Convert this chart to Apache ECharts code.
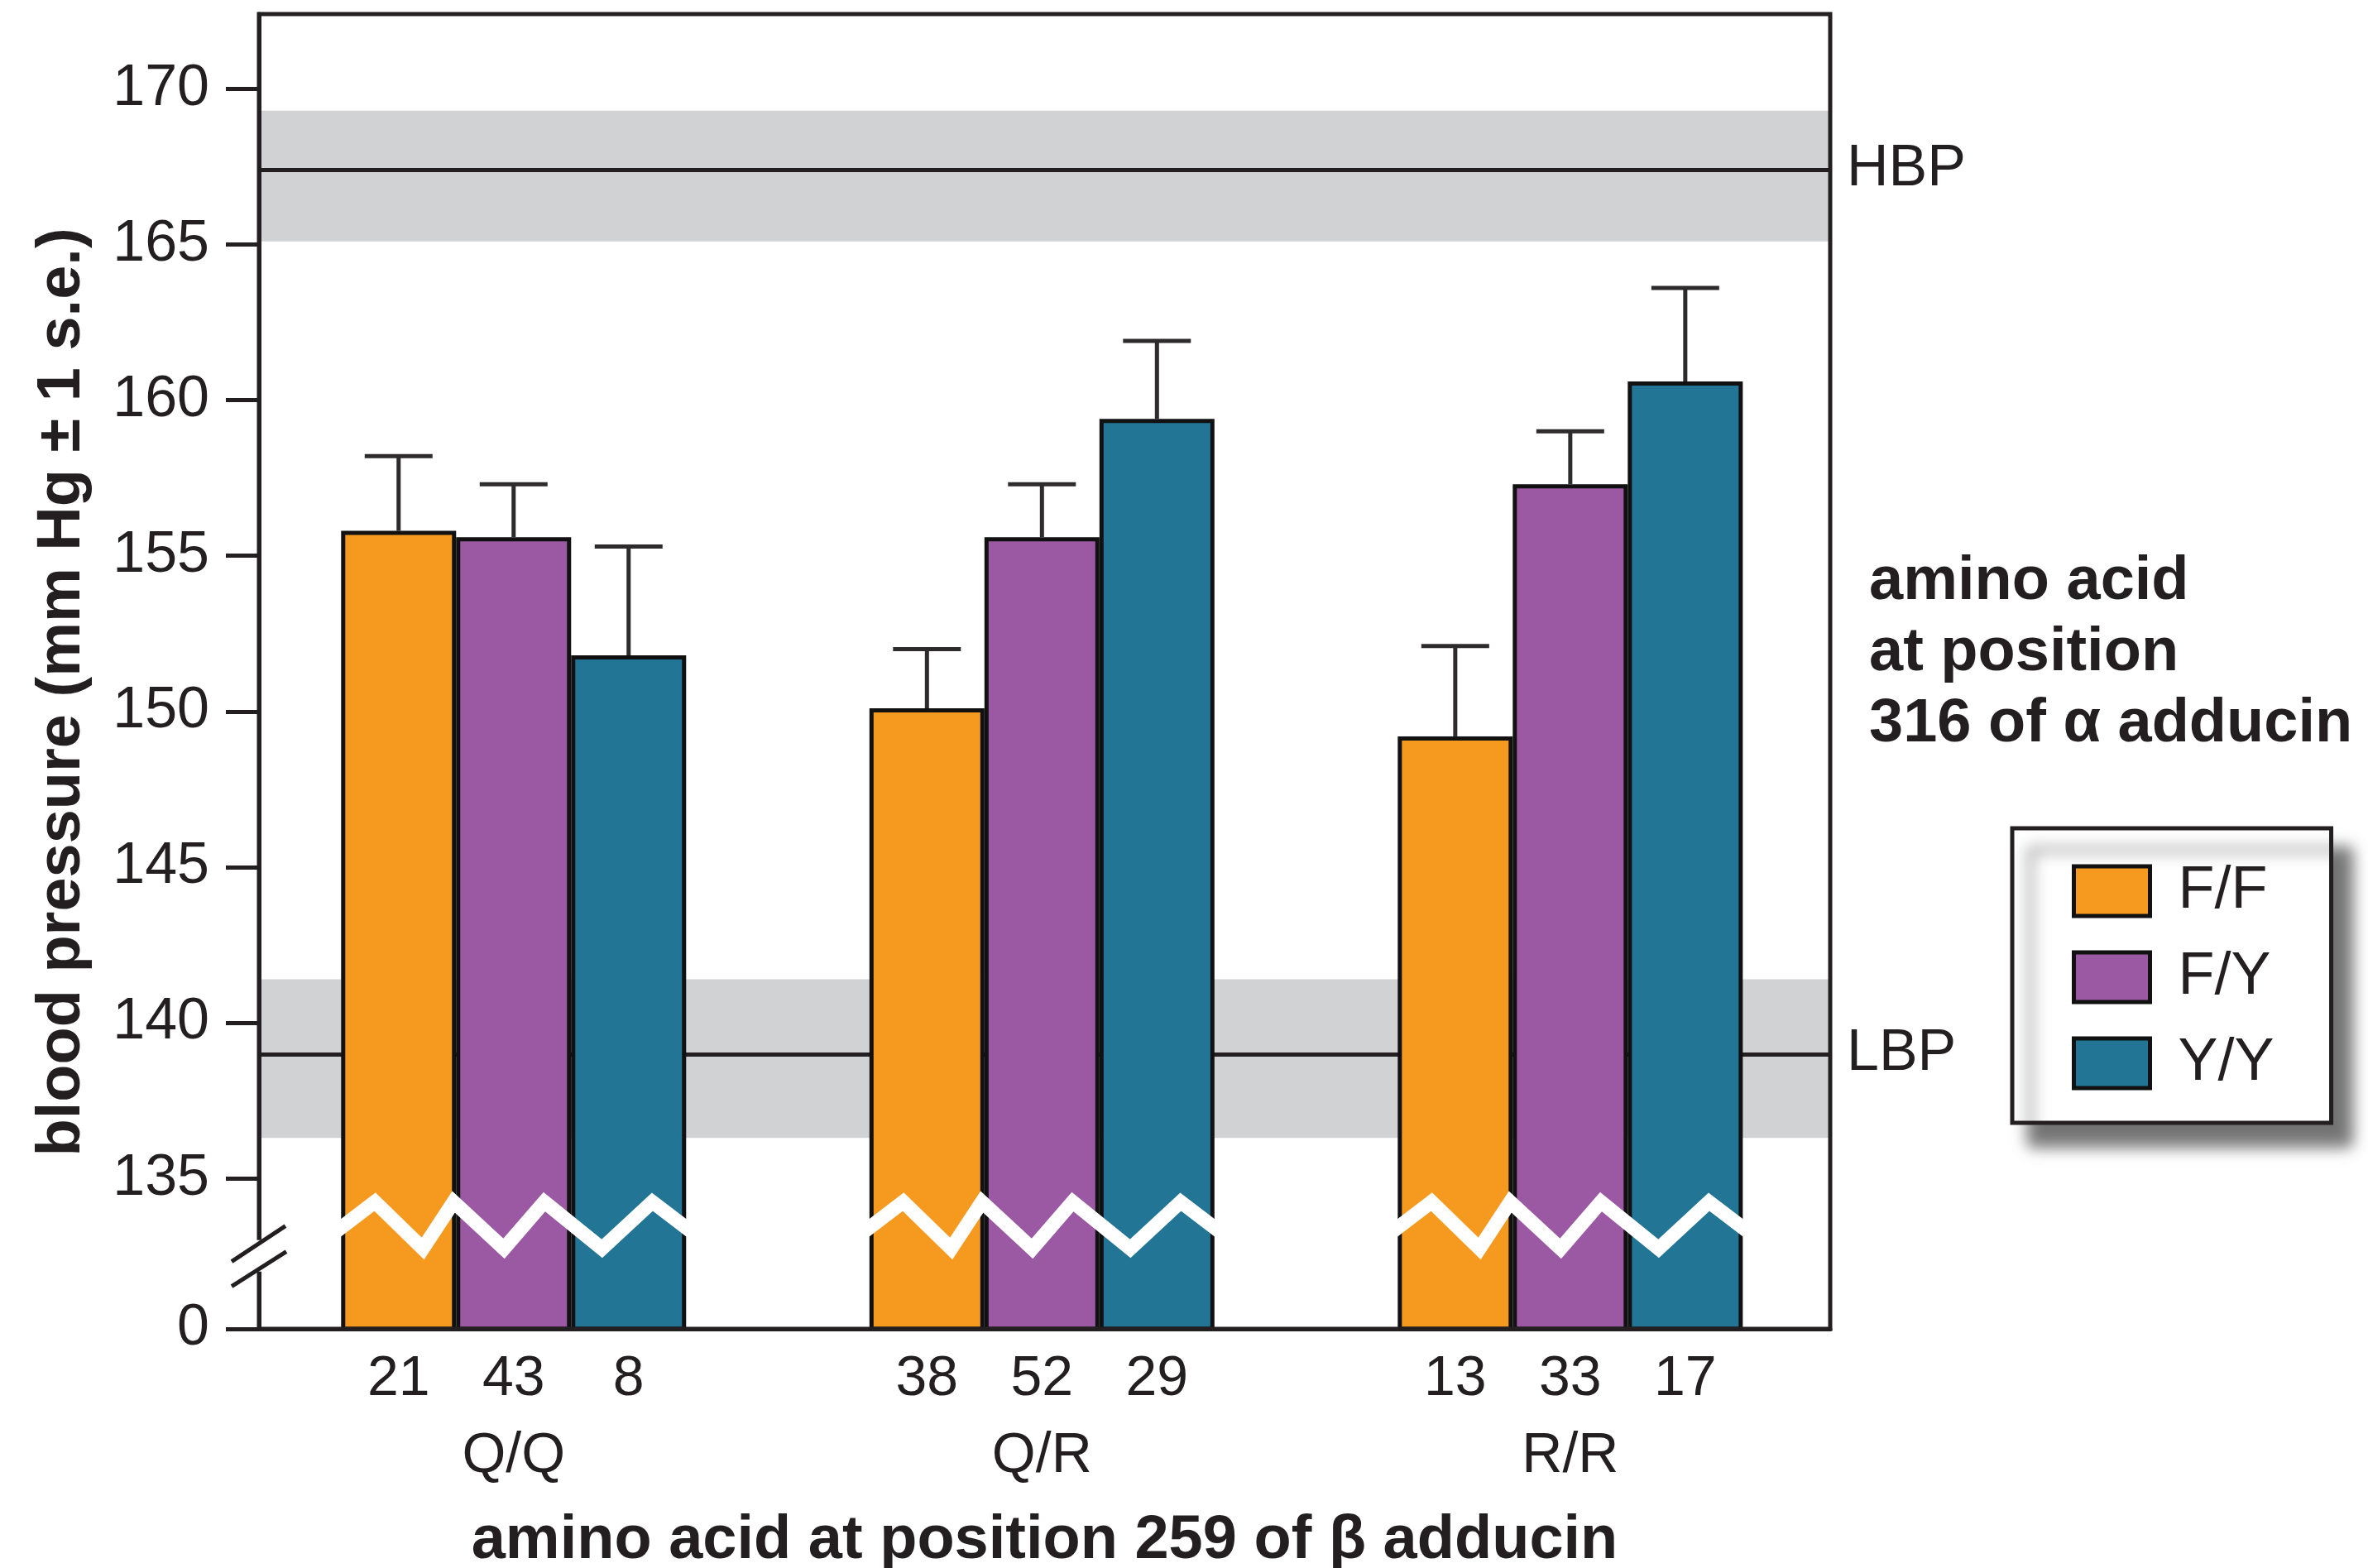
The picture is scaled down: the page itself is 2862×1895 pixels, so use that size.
<!DOCTYPE html>
<html>
<head>
<meta charset="utf-8">
<script src="https://cdn.jsdelivr.net/npm/echarts@6/dist/echarts.min.js"></script>
<style>
html,body{margin:0;padding:0;background:#fff;}
#chart{width:2862px;height:1895px;}
</style>
</head>
<body>
<div id="chart"></div>
<script>
// ---- data ----
const groups = ['Q/Q', 'Q/R', 'R/R'];           // amino acid at position 259 of beta adducin
const genotypes = ['F/F', 'F/Y', 'Y/Y'];        // amino acid at position 316 of alpha adducin
const meanFF = [155.8, 150.1, 149.2];
const meanFY = [155.6, 155.6, 157.3];
const meanYY = [151.8, 159.4, 160.6];
const seFF = [2.4, 1.9, 2.9];
const seFY = [1.7, 1.7, 1.7];
const seYY = [3.5, 2.5, 3.0];
const nFF = [21, 38, 13];
const nFY = [43, 52, 33];
const nYY = [8, 29, 17];
const yTickValues = [135, 140, 145, 150, 155, 160, 165, 170];
const hbpMean = 167.4, hbpLow = 165.1, hbpHigh = 169.3;
const lbpMean = 139.0, lbpLow = 136.3, lbpHigh = 141.4;
const axisBreakBase = 130.17;   // bottom of the broken axis, labelled "0"
const axisTop = 172.4;
const xMin = -0.482, xMax = 2.492; // group positions 0,1,2

// ---- style constants ----
const INK = '#231f20';
const FONT = '"Liberation Sans", Arial, Helvetica, sans-serif';
const BAR_W = 139;
const COLORS = ['#f5991f', '#9b58a3', '#227595'];

const means = [meanFF, meanFY, meanYY];
const ses = [seFF, seFY, seYY];
const counts = [nFF, nFY, nYY];

// error-bar data: [group, genotype index, mean, mean + se]
const errData = [];
for (let k = 0; k < 3; k++) {
  for (let c = 0; c < groups.length; c++) {
    errData.push([c, k, means[k][c], +(means[k][c] + ses[k][c]).toFixed(2)]);
  }
}

function renderErr(params, api) {
  const c = api.value(0), k = api.value(1);
  const base = api.coord([c, api.value(2)]);
  const top = api.coord([c, api.value(3)]);
  const x = base[0] + (k - 1) * BAR_W;
  const st = {stroke: '#2e2b2c', lineWidth: 5};
  return {type: 'group', children: [
    {type: 'line', shape: {x1: x, y1: base[1], x2: x, y2: top[1]}, style: st},
    {type: 'line', shape: {x1: x - 41, y1: top[1], x2: x + 41, y2: top[1]}, style: st}
  ]};
}

// zigzag break drawn across each group of bars (fraction of group width, axis value)
const ZIG = [[0, 133.3], [0.098, 134.25], [0.237, 132.75], [0.326, 134.25], [0.472, 132.75],
             [0.589, 134.25], [0.756, 132.75], [0.902, 134.25], [1, 133.3]];
function renderZig(params, api) {
  const c = api.value(0);
  const ctr = api.coord([c, 133]);
  const left = ctr[0] - 1.5 * BAR_W;
  const w = 3 * BAR_W;
  const pts = ZIG.map(function (p, i) {
    let x = left + p[0] * w;
    if (i === 0) x -= 6;
    if (i === ZIG.length - 1) x += 6;
    return [x, api.coord([c, p[1]])[1]];
  });
  return {type: 'polyline', shape: {points: pts},
          style: {stroke: '#ffffff', lineWidth: 17, fill: null, lineJoin: 'miter'}};
}

// axis break marks "//" on the y axis
function renderBreak(params, api) {
  const x0 = params.coordSys.x;
  const yc = api.coord([0, 132.49])[1];
  const st = {stroke: INK, lineWidth: 5};
  return {type: 'group', children: [
    {type: 'rect', shape: {x: x0 - 8, y: yc - 20, width: 16, height: 38}, style: {fill: '#ffffff'}},
    {type: 'line', shape: {x1: x0 - 33, y1: yc - 15 + 21, x2: x0 + 32, y2: yc - 15 - 22}, style: st},
    {type: 'line', shape: {x1: x0 - 33, y1: yc + 15 + 21, x2: x0 + 33, y2: yc + 15 - 21}, style: st}
  ]};
}

const barSeries = genotypes.map(function (g, k) {
  const s = {
    name: g,
    type: 'bar',
    z: 2,
    data: means[k].map(function (v, i) { return [i, v]; }),
    barWidth: BAR_W,
    barGap: '0%',
    itemStyle: {color: COLORS[k], borderColor: '#111111', borderWidth: 5},
    label: {
      show: true, position: 'bottom', distance: 25,
      formatter: function (p) { return String(counts[k][p.dataIndex]); },
      fontSize: 68, color: INK, fontFamily: FONT
    },
    emphasis: {disabled: true}
  };
  if (k === 0) {
    s.markArea = {
      z: 1, silent: true,
      itemStyle: {color: '#d1d2d4'},
      data: [[{yAxis: hbpLow}, {yAxis: hbpHigh}], [{yAxis: lbpLow}, {yAxis: lbpHigh}]]
    };
    s.markLine = {
      z: 1.5, silent: true, symbol: 'none',
      lineStyle: {color: INK, width: 5, type: 'solid'},
      label: {show: true, position: 'end', distance: 20, fontSize: 70, color: INK,
              fontFamily: FONT, formatter: '{b}', padding: [10, 0, 0, 0]},
      data: [{yAxis: hbpMean, name: 'HBP'}, {yAxis: lbpMean, name: 'LBP'}]
    };
  }
  return s;
});

const chart = echarts.init(document.getElementById('chart'));
chart.setOption({
  animation: false,
  backgroundColor: '#ffffff',
  textStyle: {fontFamily: FONT, color: INK},
  grid: {left: 313, right: 650, top: 17, bottom: 289, show: true, z: 3,
         containLabel: false, outerBoundsMode: 'none',
         borderColor: INK, borderWidth: 5, backgroundColor: 'transparent'},
  legend: {
    data: genotypes, orient: 'vertical', left: 2432, top: 1001,
    icon: 'rect', itemWidth: 92, itemHeight: 60, itemGap: 32,
    padding: [40, 69, 36, 72],
    backgroundColor: '#ffffff', borderColor: INK, borderWidth: 5,
    shadowColor: 'rgba(0,0,0,0.55)', shadowBlur: 18, shadowOffsetX: 22, shadowOffsetY: 26,
    itemStyle: {borderColor: '#111111', borderWidth: 5},
    textStyle: {fontSize: 72, color: INK, fontFamily: FONT, padding: [0, 0, 0, 29]},
    selectedMode: false
  },
  xAxis: {
    type: 'value', min: xMin, max: xMax, z: 3,
    axisLine: {show: true, onZero: false, lineStyle: {color: INK, width: 5}},
    axisTick: {show: false},
    axisLabel: {customValues: [0, 1, 2],
                formatter: function (v) { return groups[Math.round(v)]; },
                fontSize: 68, margin: 120, color: INK, fontFamily: FONT},
    splitLine: {show: false},
    name: 'amino acid at position 259 of β adducin',
    nameLocation: 'middle', nameGap: 220,
    nameTextStyle: {fontSize: 74, fontWeight: 'bold', color: INK, fontFamily: FONT}
  },
  yAxis: {
    type: 'value', min: axisBreakBase, max: axisTop, z: 3,
    axisLine: {show: true, onZero: false, lineStyle: {color: INK, width: 5}},
    axisTick: {show: true, length: 40, lineStyle: {color: INK, width: 5},
               customValues: [axisBreakBase].concat(yTickValues)},
    axisLabel: {customValues: [axisBreakBase].concat(yTickValues),
                formatter: function (v) { return v < 131 ? '0' : String(Math.round(v)); },
                fontSize: 70, margin: 60, color: INK, fontFamily: FONT},
    splitLine: {show: false},
    name: 'blood pressure (mm Hg ± 1 s.e.)',
    nameLocation: 'middle', nameGap: 200,
    nameTextStyle: {fontSize: 74, fontWeight: 'bold', color: INK, fontFamily: FONT,
                    padding: [0, 50, 0, 0]}
  },
  graphic: [{
    type: 'text', left: 2259, top: 661, z: 10,
    style: {text: 'amino acid\nat position\n316 of α adducin', fill: INK,
            fontSize: 74, fontWeight: 'bold', fontFamily: FONT, lineHeight: 86}
  }],
  series: barSeries.concat([
    {name: 'err', type: 'custom', z: 2.5, renderItem: renderErr, data: errData,
     encode: {x: 0, y: [2, 3]}, silent: true, clip: false},
    {name: 'zig', type: 'custom', z: 4, renderItem: renderZig,
     data: groups.map(function (g, i) { return [i, 133]; }), encode: {x: 0, y: 1}, silent: true, clip: false},
    {name: 'brk', type: 'custom', z: 10, renderItem: renderBreak,
     data: [[0, 132.49]], encode: {x: 0, y: 1}, silent: true, clip: false}
  ])
});
</script>
</body>
</html>
